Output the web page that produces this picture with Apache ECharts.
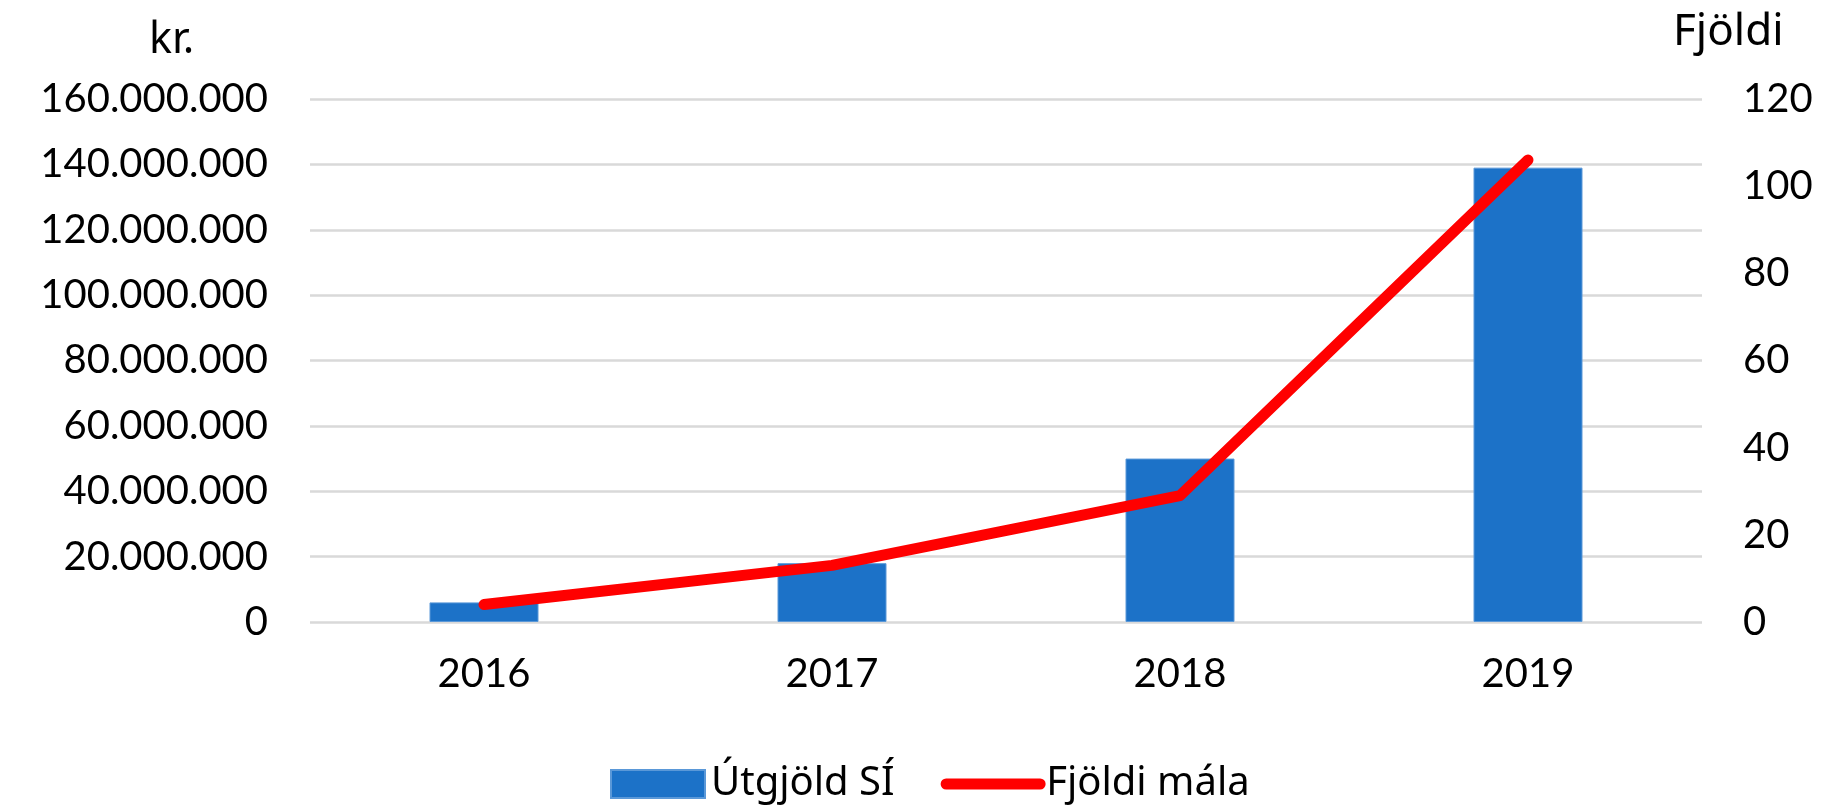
<!DOCTYPE html>
<html>
<head>
<meta charset="utf-8">
<script src="https://cdn.jsdelivr.net/npm/echarts@6/dist/echarts.min.js"></script>
<style>
  html, body { margin: 0; padding: 0; background: #fff; }
  #chart { width: 1825px; height: 807px; }
</style>
</head>
<body>
<div id="chart"></div>
<script>
const years = ['2016', '2017', '2018', '2019']
const utgjold = [6000000, 18000000, 50000000, 139000000]
const fjoldiMala = [4, 13, 29, 106]
const krTicks = { min: 0, max: 160000000, interval: 20000000 }
const countTicks = { min: 0, max: 120, interval: 20 }

const FONT = 'Lato, "Noto Sans", sans-serif'
const WORD_FONT = '"Noto Sans", Lato, sans-serif'

function dotThousands(v) {
  return String(v).replace(/\B(?=(\d{3})+(?!\d))/g, '.')
}

const chart = echarts.init(document.getElementById('chart'))

const option = {
  backgroundColor: '#ffffff',
  animation: false,
  textStyle: { fontFamily: FONT },
  title: [
    { text: 'kr.', left: 144, top: 14, textStyle: { fontFamily: WORD_FONT, fontSize: 43, fontWeight: 'normal', color: '#000' } },
    { text: 'Fjöldi', left: 1668, top: 5, textStyle: { fontFamily: WORD_FONT, fontSize: 44, fontWeight: 'normal', color: '#000' } },
  ],
  grid: { left: 310, right: 123, top: 99, bottom: 185, containLabel: false },
  legend: {
    top: 759,
    left: 605,
    itemGap: 46,
    itemWidth: 94,
    itemHeight: 28,
    textStyle: { fontFamily: WORD_FONT, fontSize: 40, color: '#000', padding: [0, 0, 0, 1] },
    data: [
      { name: 'Útgjöld SÍ', icon: 'rect' },
      {
        name: 'Fjöldi mála',
        itemStyle: { opacity: 0 },
        lineStyle: { width: 11, cap: 'round', color: '#ff0000' },
      },
    ],
  },
  xAxis: {
    type: 'category',
    data: years,
    axisLine: { show: false },
    axisTick: { show: false },
    axisLabel: { color: '#000', fontSize: 40, fontFamily: FONT, margin: 32 },
  },
  yAxis: [
    {
      type: 'value',
      min: krTicks.min,
      max: krTicks.max,
      interval: krTicks.interval,
      axisLine: { show: false },
      axisTick: { show: false },
      splitLine: { lineStyle: { color: '#d9d9d9', width: 2.5 } },
      axisLabel: { color: '#000', fontSize: 40, fontFamily: FONT, margin: 42, formatter: dotThousands },
    },
    {
      type: 'value',
      position: 'right',
      min: countTicks.min,
      max: countTicks.max,
      interval: countTicks.interval,
      axisLine: { show: false },
      axisTick: { show: false },
      splitLine: { show: false },
      axisLabel: { color: '#000', fontSize: 40, fontFamily: FONT, margin: 41 },
    },
  ],
  series: [
    {
      name: 'Útgjöld SÍ',
      type: 'bar',
      yAxisIndex: 0,
      data: utgjold,
      barWidth: 109,
      itemStyle: { color: '#1c72c8', borderColor: '#5a98d8', borderWidth: 1 },
    },
    {
      name: 'Fjöldi mála',
      type: 'line',
      yAxisIndex: 1,
      data: fjoldiMala,
      symbol: 'none',
      lineStyle: { color: '#ff0000', width: 11, cap: 'round', join: 'round' },
      itemStyle: { color: '#ff0000' },
    },
  ],
}

chart.setOption(option)
</script>
</body>
</html>
